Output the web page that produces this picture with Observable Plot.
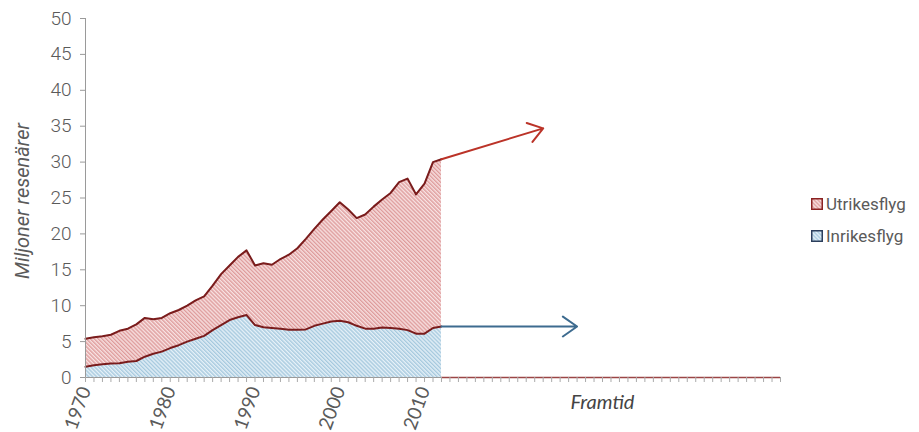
<!DOCTYPE html>
<html>
<head>
<meta charset="utf-8">
<script src="https://cdn.jsdelivr.net/npm/d3@7"></script>
<script src="https://cdn.jsdelivr.net/npm/@observablehq/plot@0.6"></script>
<style>
  html, body { margin: 0; padding: 0; background: #fff; }
  #wrap { position: relative; width: 919px; height: 432px; overflow: hidden; }
  .legend { position: absolute; left: 811px; top: 193px; font-family: Roboto, sans-serif; font-size: 17px; color: #5a5a5a; }
  .legend .row { display: flex; align-items: center; height: 22px; margin-bottom: 10px; white-space: nowrap; }
  .legend svg { margin-right: 3px; }
</style>
</head>
<body>
<div id="wrap"></div>
<script>
// ---- data ----
const years = d3.range(1970, 2013);
const seriesOrder = ["Inrikesflyg", "Utrikesflyg"];
const inrikes = [1.5, 1.7, 1.85, 1.95, 2.0, 2.2, 2.3, 2.9, 3.3, 3.6,
                 4.1, 4.5, 5.0, 5.4, 5.8, 6.6, 7.3, 8.0, 8.4, 8.7,
                 7.3, 7.0, 6.9, 6.8, 6.65, 6.65, 6.7, 7.2, 7.5, 7.8,
                 7.9, 7.7, 7.2, 6.8, 6.8, 6.95, 6.9, 6.8, 6.6, 6.1,
                 6.1, 6.9, 7.1];
const utrikes = [3.9, 3.9, 3.9, 4.0, 4.5, 4.6, 5.1, 5.4, 4.8, 4.7,
                 4.85, 4.9, 5.0, 5.35, 5.5, 6.2, 7.1, 7.6, 8.4, 9.0,
                 8.3, 8.9, 8.8, 9.7, 10.45, 11.35, 12.6, 13.5, 14.5, 15.4,
                 16.5, 15.7, 15.0, 15.9, 17.0, 17.85, 18.8, 20.4, 21.1, 19.4,
                 20.9, 23.1, 23.3];
const yTicks = [0, 5, 10, 15, 20, 25, 30, 35, 40, 45, 50];
const labelYears = [1970, 1980, 1990, 2000, 2010];
const axisYears = d3.range(1970, 2053);
// future arrows (Framtid)
const arrowSeries = ["Utrikesflyg", "Inrikesflyg"];
const arrowFromYear = [2012, 2012];
const arrowFromValue = [30.4, 7.1];
const arrowToYear = [2024, 2028];
const arrowToValue = [34.7, 7.1];

// ---- styles ----
const patternFor = {Inrikesflyg: "url(#hatchBlue)", Utrikesflyg: "url(#hatchRed)"};
const arrowColor = {Utrikesflyg: "#bb3328", Inrikesflyg: "#3d6b8f"};

const long = years.flatMap((year, i) => [
  {year, serie: "Inrikesflyg", value: inrikes[i]},
  {year, serie: "Utrikesflyg", value: utrikes[i]}
]);
const arrows = arrowSeries.map((serie, i) => ({
  serie, x1: arrowFromYear[i], y1: arrowFromValue[i], x2: arrowToYear[i], y2: arrowToValue[i]
}));

const chart = Plot.plot({
  width: 919,
  height: 432,
  marginLeft: 85,
  marginRight: 139,
  marginTop: 18,
  marginBottom: 55,
  x: {domain: [1970, 2052]},
  y: {domain: [0, 50]},
  color: {type: "identity"},
  style: {fontFamily: "Roboto, sans-serif", color: "#5a5a5a", background: "white", overflow: "visible"},
  marks: [
    Plot.areaY(long, Plot.stackY({x: "year", y: "value", z: "serie", order: seriesOrder, fill: d => patternFor[d.serie]})),
    Plot.lineY(long, Plot.stackY2({x: "year", y: "value", z: "serie", order: seriesOrder, stroke: "#7a1c1c", strokeWidth: 2})),
    Plot.ruleY([0], {stroke: "#9a9a9a"}),
    Plot.ruleY([0], {x1: 2012, x2: 2052, stroke: "#9b4545", strokeWidth: 1.5}),
    Plot.ruleX([1970], {stroke: "#9a9a9a"}),
    Plot.axisY({ticks: yTicks, tickSize: 5, tickPadding: 9, fontSize: 19, fontWeight: 300, label: null, stroke: "#9a9a9a", fill: "#5a5a5a"}),
    Plot.axisX({ticks: axisYears, tickSize: 5, tickFormat: () => "", label: null, stroke: "#aaaaaa"}),
    Plot.axisX({ticks: labelYears, tickSize: 0, tickRotate: -70, tickPadding: 10, fontSize: 19, fontFamily: "Lato, sans-serif",
                tickFormat: d => String(d), label: null, fill: "#5a5a5a"}),
    Plot.text(["Miljoner resenärer"], {frameAnchor: "left", textAnchor: "middle", dx: -63, dy: 3, rotate: -90, fontSize: 20, fontStyle: "italic", fill: "#5a5a5a"}),
    Plot.text(["Framtid"], {x: 2031, frameAnchor: "bottom", dy: 31, fontSize: 20, fontStyle: "italic", fontFamily: "Lato, sans-serif", fill: "#444"}),
    Plot.arrow(arrows, {x1: "x1", y1: "y1", x2: "x2", y2: "y2", stroke: d => arrowColor[d.serie], strokeWidth: 2, headLength: 13, headAngle: 70})
  ]
});

// hatch patterns
const defs = `
<defs>
  <pattern id="hatchRed" width="2.8" height="2.8" patternUnits="userSpaceOnUse" patternTransform="rotate(-45)">
    <rect width="2.8" height="2.8" fill="#f8e2e2"/>
    <line x1="0.7" y1="0" x2="0.7" y2="2.8" stroke="#de9c9c" stroke-width="1.4"/>
  </pattern>
  <pattern id="hatchBlue" width="2.8" height="2.8" patternUnits="userSpaceOnUse" patternTransform="rotate(-45)">
    <rect width="2.8" height="2.8" fill="#e6f1f8"/>
    <line x1="0.7" y1="0" x2="0.7" y2="2.8" stroke="#a6c9de" stroke-width="1.4"/>
  </pattern>
</defs>`;
chart.insertAdjacentHTML("afterbegin", defs);

const wrap = document.getElementById("wrap");
wrap.appendChild(chart);

const legend = document.createElement("div");
legend.className = "legend";
legend.innerHTML = `
  <div class="row"><svg width="12" height="12"><rect x="0.75" y="0.75" width="10.5" height="10.5" fill="url(#hatchRed)" stroke="#8b2222" stroke-width="1.5"/></svg>Utrikesflyg</div>
  <div class="row"><svg width="12" height="12"><rect x="0.75" y="0.75" width="10.5" height="10.5" fill="url(#hatchBlue)" stroke="#2c3f5c" stroke-width="1.5"/></svg>Inrikesflyg</div>`;
wrap.appendChild(legend);
</script>
</body>
</html>
